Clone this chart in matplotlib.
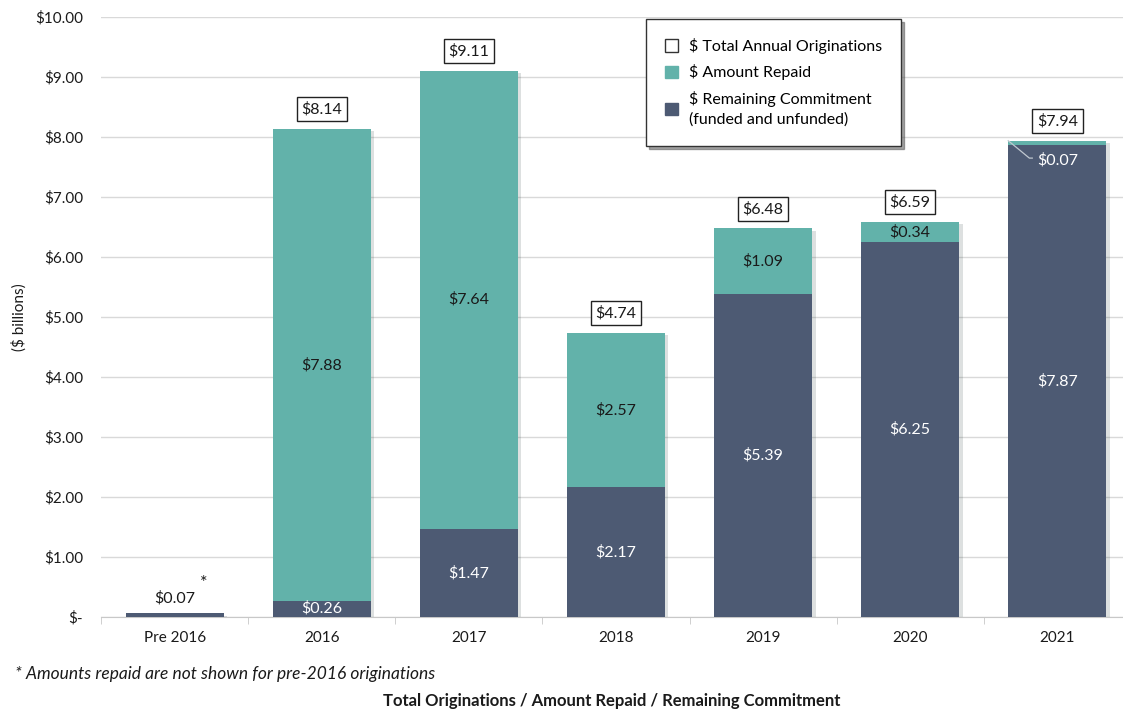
import matplotlib
matplotlib.use("Agg")
import matplotlib.pyplot as plt
import matplotlib.patheffects as pe
from matplotlib.patches import Patch
import numpy as np

categories = ["Pre 2016", "2016", "2017", "2018", "2019", "2020", "2021"]
remaining = [0.07, 0.26, 1.47, 2.17, 5.39, 6.25, 7.87]
repaid = [0.0, 7.88, 7.64, 2.57, 1.09, 0.34, 0.07]
totals = [0.07, 8.14, 9.11, 4.74, 6.48, 6.59, 7.94]
yticks = [0, 1, 2, 3, 4, 5, 6, 7, 8, 9, 10]
ytick_labels = ["$-", "$1.00", "$2.00", "$3.00", "$4.00", "$5.00", "$6.00",
                "$7.00", "$8.00", "$9.00", "$10.00"]

plt.rcParams['font.family'] = ['Lato', 'DejaVu Sans']
TEAL = "#62B2AA"
SLATE = "#4D5A73"
TXT = "#1a1a1a"

fig = plt.figure(figsize=(11.23, 7.13), dpi=100)
ax = fig.add_axes([0.09, 0.1346, 0.917, 0.8414])

x = np.arange(len(categories))
w = 0.667
shadow = [pe.SimplePatchShadow(offset=(2.5, -2), alpha=0.15), pe.Normal()]
ax.bar(x, totals, w, color=[SLATE] + [TEAL] * 6, zorder=2, path_effects=shadow)
ax.bar(x, remaining, w, color=SLATE, zorder=3)
ax.bar(x[1:], repaid[1:], w, bottom=remaining[1:], color=TEAL, zorder=3)

ax.set_xlim(-0.5, len(categories) - 0.5)
ax.set_ylim(0, 10)
ax.set_yticks(yticks)
ax.set_yticklabels(ytick_labels, fontsize=11, color=TXT)
ax.set_xticks(x)
ax.set_xticklabels(categories, fontsize=11, color=TXT)
ax.tick_params(axis='x', length=0, pad=10)
ax.tick_params(axis='y', length=0, pad=13)
ax.set_xticks(np.arange(-0.5, len(categories), 1), minor=True)
ax.tick_params(axis='x', which='minor', length=5, color="#c8c8c8")
ax.grid(axis='y', color="#d9d9d9", linewidth=1, zorder=0)
for s in ["top", "right", "left"]:
    ax.spines[s].set_visible(False)
ax.spines["bottom"].set_color("#c8c8c8")

ax.set_ylabel("($ billions)", fontsize=11, color=TXT)
ax.yaxis.set_label_coords(-0.072, 0.5)

for i in range(len(categories)):
    r = remaining[i]
    p = repaid[i]
    if i == 0:
        ax.text(x[i], totals[i] + 0.12, f"${r:.2f}", ha='center', va='bottom',
                fontsize=11.5, color=TXT)
        ax.text(x[i] + 0.2, totals[i] + 0.37, "*", ha='center', va='bottom',
                fontsize=13, color=TXT)
        continue
    ax.text(x[i], r / 2 + (0.02 if i == 1 else 0), f"${r:.2f}", ha='center',
            va='center', fontsize=11.5, color="white", zorder=5)
    if i == len(categories) - 1:
        ax.plot([x[i] - w / 2, x[i] - 0.19, x[i] - 0.17],
                [r + p, r - 0.22, r - 0.22], color="#c0c8d0", lw=0.9, zorder=5)
        ax.text(x[i], r - 0.25, f"${p:.2f}", ha='center', va='center',
                fontsize=11.5, color="white", zorder=5)
    else:
        ax.text(x[i], r + p / 2, f"${p:.2f}", ha='center', va='center',
                fontsize=11.5, color=TXT, zorder=5)
    ax.annotate(f"${totals[i]:.2f}", xy=(x[i], totals[i]), xytext=(0, 14),
                textcoords='offset points', ha='center', va='center',
                fontsize=11.5, color=TXT, zorder=5,
                bbox=dict(boxstyle='square,pad=0.3', fc='white', ec='#222222', lw=1))

handles = [Patch(facecolor='white', edgecolor='#333333', label="$ Total Annual Originations"),
           Patch(facecolor=TEAL, edgecolor=TEAL, label="$ Amount Repaid"),
           Patch(facecolor=SLATE, edgecolor=SLATE, label="$ Remaining Commitment\n(funded and unfunded)")]
leg = ax.legend(handles=handles, loc='upper left', bbox_to_anchor=(0.529, 0.997),
                borderaxespad=0, fontsize=11.5, frameon=True, fancybox=False,
                handlelength=0.8, handleheight=0.8, handletextpad=0.7,
                borderpad=1.2, labelspacing=0.65, shadow=True)
for t in leg.get_texts():
    t.set_linespacing(1.5)
leg.get_frame().set_edgecolor('#333333')
leg.get_frame().set_linewidth(1)
leg.set_zorder(10)

fig.text(0.013, 0.048, "* Amounts repaid are not shown for pre-2016 originations",
         fontsize=12.5, style='italic', color=TXT)
fig.text(0.545, 0.010, "Total Originations / Amount Repaid / Remaining Commitment",
         fontsize=12, weight='bold', color=TXT, ha='center')

fig.savefig("out.png", dpi=100)
